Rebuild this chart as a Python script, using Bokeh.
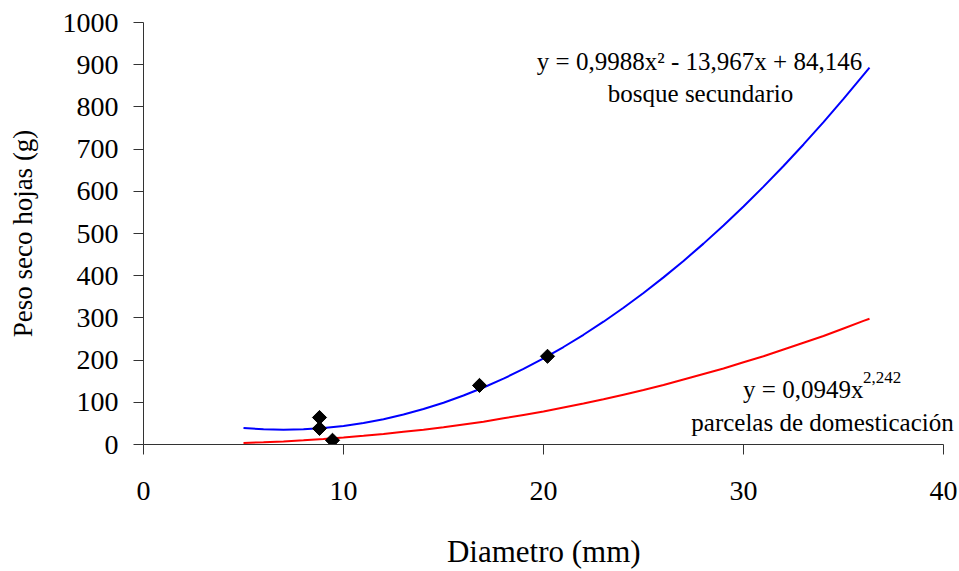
import numpy as np
from bokeh.plotting import figure
from bokeh.models import Label, Range1d, FixedTicker
from bokeh.embed import file_html
from bokeh.resources import INLINE

# trend line readings (diameter mm, leaf dry weight g)
x_curve = [5, 6, 7, 8, 9, 10, 11, 12, 13, 14, 15, 16, 17, 18, 19, 20, 21, 22, 23, 24,
           25, 26, 27, 28, 29, 30, 31, 32, 33, 34, 35, 36, 36.3]
bosque = [39, 36, 35, 36, 39, 44, 51, 60, 71, 84, 99, 116, 135, 156, 179, 204, 231, 260,
          291, 324, 359, 396, 435, 476, 519, 564, 611, 660, 711, 764, 819, 876, 893]
parcelas = [3.5, 5.3, 7.4, 10, 13, 16.6, 20.5, 25, 30, 35, 41, 47.5, 54, 62, 70, 78, 87.5,
            97, 107, 118, 129, 141, 154, 167, 180, 195, 209, 225, 241, 257, 275, 293, 298]

# observed points
pts_x = [8.8, 8.8, 9.45, 16.8, 20.2]
pts_y = [64, 38, 10, 140, 209]

x_ticks = [0, 10, 20, 30, 40]
y_ticks = [0, 100, 200, 300, 400, 500, 600, 700, 800, 900, 1000]

FONT = "Liberation Serif"

p = figure(width=959, height=571, output_backend="svg", toolbar_location=None,
           x_range=Range1d(0, 40.8), y_range=Range1d(0, 1000),
           min_border_left=143, min_border_right=0, min_border_top=22, min_border_bottom=126)
p.outline_line_color = None
p.grid.visible = False
p.background_fill_color = "white"
p.border_fill_color = "white"

p.line(x_curve, bosque, line_color="#0000FF", line_width=2)
p.line(x_curve, parcelas, line_color="#FF0000", line_width=2)
p.scatter(pts_x, pts_y, marker="square", angle=np.pi / 4, size=10,
          fill_color="black", line_color="black")

for ax in (p.xaxis[0], p.yaxis[0]):
    ax.axis_line_color = "#333333"
    ax.major_tick_line_color = "#333333"
    ax.minor_tick_line_color = None
    ax.major_tick_in = 0
    ax.major_tick_out = 10
    ax.major_label_text_font = FONT
    ax.major_label_text_font_size = "28px"
    ax.major_label_text_color = "black"
    ax.axis_label_text_font = FONT
    ax.axis_label_text_font_style = "normal"
    ax.axis_label_text_color = "black"

p.xaxis.bounds = (0, 40)
p.xaxis.ticker = FixedTicker(ticks=x_ticks)
p.yaxis.ticker = FixedTicker(ticks=y_ticks)
# trailing no-break spaces keep the title centred under the 0-40 axis span
p.xaxis.axis_label = "Diametro (mm)\u00a0\u00a0"
p.yaxis.axis_label = "Peso seco hojas (g)"
p.xaxis.axis_label_text_font_size = "31px"
p.yaxis.axis_label_text_font_size = "27px"
p.xaxis.major_label_standoff = 27
p.yaxis.major_label_standoff = 15
p.xaxis.axis_label_standoff = 31
p.yaxis.axis_label_standoff = 22

def lab(x, y, t, size="25px", align="center"):
    p.add_layout(Label(x=x, y=y, text=t, text_font=FONT, text_font_size=size,
                       text_align=align, text_baseline="alphabetic", text_color="black"))

lab(27.8, 907, "y = 0,9988x² - 13,967x + 84,146")
lab(27.85, 832, "bosque secundario")
lab(29.98, 130, "y = 0,0949x", align="left")
lab(35.98, 158, "2,242", size="17px", align="left")
lab(33.95, 52, "parcelas de domesticación")

open("out.html", "w").write(file_html(p, INLINE))
